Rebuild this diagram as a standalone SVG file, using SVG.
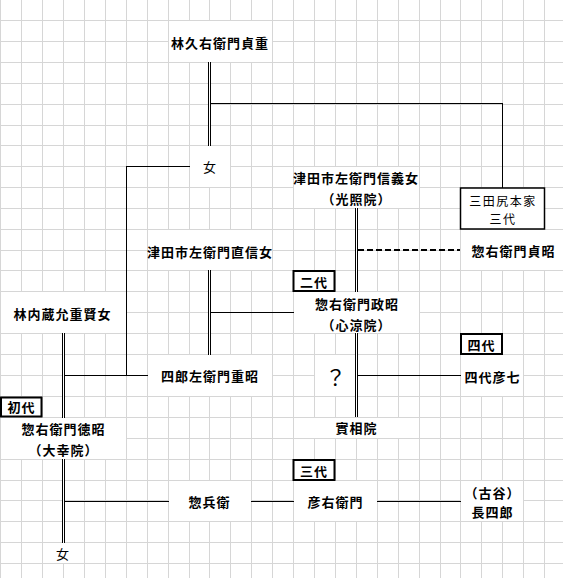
<svg xmlns="http://www.w3.org/2000/svg" width="563" height="578" viewBox="0 0 563 578">
<style>
.grid{stroke:#d6d6d6;stroke-width:1;fill:none}
.wb{fill:#fff;stroke:none}
.bb{fill:#fff;stroke:#000;stroke-width:2}
.tb{fill:#fff;stroke:#000;stroke-width:1.5}
.ln{stroke:#000;stroke-width:1;fill:none}
.dbl{stroke:#000;stroke-width:3;fill:none}
.dblw{stroke:#fff;stroke-width:1;fill:none}
.dash{stroke:#000;stroke-width:2;stroke-dasharray:6 3;fill:none}
text{font-family:"Noto Sans CJK JP","Noto Sans CJK SC",sans-serif;font-size:13px;letter-spacing:1px;text-anchor:middle;dominant-baseline:central;fill:#000;font-weight:700}
.n{font-weight:400}
.s{font-size:12px;letter-spacing:1.5px}
.q{font-size:21px;font-weight:400;letter-spacing:0}
</style>
<rect x="0" y="0" width="563" height="578" fill="#fff"/>
<path class="grid" d="M0.5 0V578M21.5 0V578M42.5 0V578M63.5 0V578M84.5 0V578M105.5 0V578M126.5 0V578M147.5 0V578M168.5 0V578M189.5 0V578M209.5 0V578M230.5 0V578M251.5 0V578M272.5 0V578M293.5 0V578M314.5 0V578M335.5 0V578M356.5 0V578M377.5 0V578M398.5 0V578M419.5 0V578M440.5 0V578M460.5 0V578M481.5 0V578M502.5 0V578M523.5 0V578M544.5 0V578M0 20.5H563M0 41.5H563M0 62.5H563M0 83.5H563M0 104.5H563M0 125.5H563M0 145.5H563M0 166.5H563M0 187.5H563M0 208.5H563M0 229.5H563M0 250.5H563M0 270.5H563M0 291.5H563M0 312.5H563M0 333.5H563M0 354.5H563M0 375.5H563M0 396.5H563M0 417.5H563M0 438.5H563M0 459.5H563M0 480.5H563M0 500.5H563M0 521.5H563M0 542.5H563M0 563.5H563"/>
<g id="connectors">
<path class="ln" d="M211 103.5H503M502.5 103V188M126 166.5H190M126.5 166V376M65 375.5H148M211 312.5H294M358 375.5H461M65 501.5H169M251 501.5H294M377 501.5H461"/>
<path class="dash" d="M358 250H460"/>
<path class="dbl" d="M209.5 62V146M209.5 270V355M356.5 208V292M356.5 333V417M63.5 333V418M63.5 459V543"/>
<path class="dblw" d="M209.5 62V146M209.5 270V355M356.5 208V292M356.5 333V417M63.5 333V418M63.5 459V543"/>
</g>
<g id="n-hayashi-hisa"><rect class="wb" x="169" y="21" width="103" height="41"/><text x="220" y="42">林久右衛門貞重</text></g>
<g id="n-onna1"><rect class="wb" x="190" y="146" width="40" height="41"/><text class="n" x="210" y="166.5">女</text></g>
<g id="n-tsuda-nobuyoshi"><rect class="wb" x="294" y="167" width="125" height="41"/><text x="356" y="177">津田市左衛門信義女</text><text x="356.5" y="198.5">（光照院）</text></g>
<g id="n-mitajiri"><rect class="tb" x="460.5" y="188" width="84" height="41"/><text class="n s" x="503" y="200">三田尻本家</text><text class="n s" x="503" y="218">三代</text></g>
<g id="n-tsuda-naonobu"><rect class="wb" x="148" y="230" width="124" height="40"/><text x="210" y="251.5">津田市左衛門直信女</text></g>
<g id="n-sadaaki"><rect class="wb" x="461" y="230" width="102" height="40"/><text x="513.5" y="250">惣右衛門貞昭</text></g>
<g id="n-nidai"><rect class="bb" x="293.5" y="271" width="41" height="20"/><text x="314" y="281">二代</text></g>
<g id="n-masaaki"><rect class="wb" x="294" y="292" width="125" height="41"/><text x="357" y="303">惣右衛門政昭</text><text x="356.5" y="324">（心涼院）</text></g>
<g id="n-hayashi-kura"><rect class="wb" x="1" y="292" width="125" height="41"/><text x="62.5" y="313.5">林内蔵允重賢女</text></g>
<g id="n-shiro"><rect class="wb" x="148" y="355" width="124" height="41"/><text x="210" y="375.5">四郎左衛門重昭</text></g>
<g id="n-q"><rect class="wb" x="315" y="355" width="40" height="41"/><text class="q" x="335.5" y="375.5">？</text></g>
<g id="n-yondai"><rect class="bb" x="461" y="334" width="41" height="20"/><text x="481.5" y="344">四代</text></g>
<g id="n-hikoshichi"><rect class="wb" x="461" y="355" width="62" height="41"/><text x="492.5" y="376">四代彦七</text></g>
<g id="n-shodai"><rect class="bb" x="1" y="397.5" width="40.5" height="19"/><text x="21.5" y="406.5">初代</text></g>
<g id="n-noriaki"><rect class="wb" x="1" y="418" width="125" height="41"/><text x="63.5" y="428">惣右衛門徳昭</text><text x="63.5" y="449">（大幸院）</text></g>
<g id="n-jissoin"><rect class="wb" x="294" y="418" width="125" height="20"/><text x="356.5" y="427.5">實相院</text></g>
<g id="n-sandai"><rect class="bb" x="293.5" y="460" width="41" height="20"/><text x="314" y="470">三代</text></g>
<g id="n-sobei"><rect class="wb" x="169" y="481" width="82" height="40"/><text x="209.5" y="501">惣兵衛</text></g>
<g id="n-hikoemon"><rect class="wb" x="294" y="481" width="83" height="40"/><text x="335.5" y="501">彦右衛門</text></g>
<g id="n-choshiro"><rect class="wb" x="461" y="481" width="62" height="40"/><text x="492.5" y="492">（古谷）</text><text x="492.5" y="511.5">長四郎</text></g>
<g id="n-onna2"><rect class="wb" x="43" y="543" width="41" height="20"/><text class="n" x="63" y="553">女</text></g>
</svg>
